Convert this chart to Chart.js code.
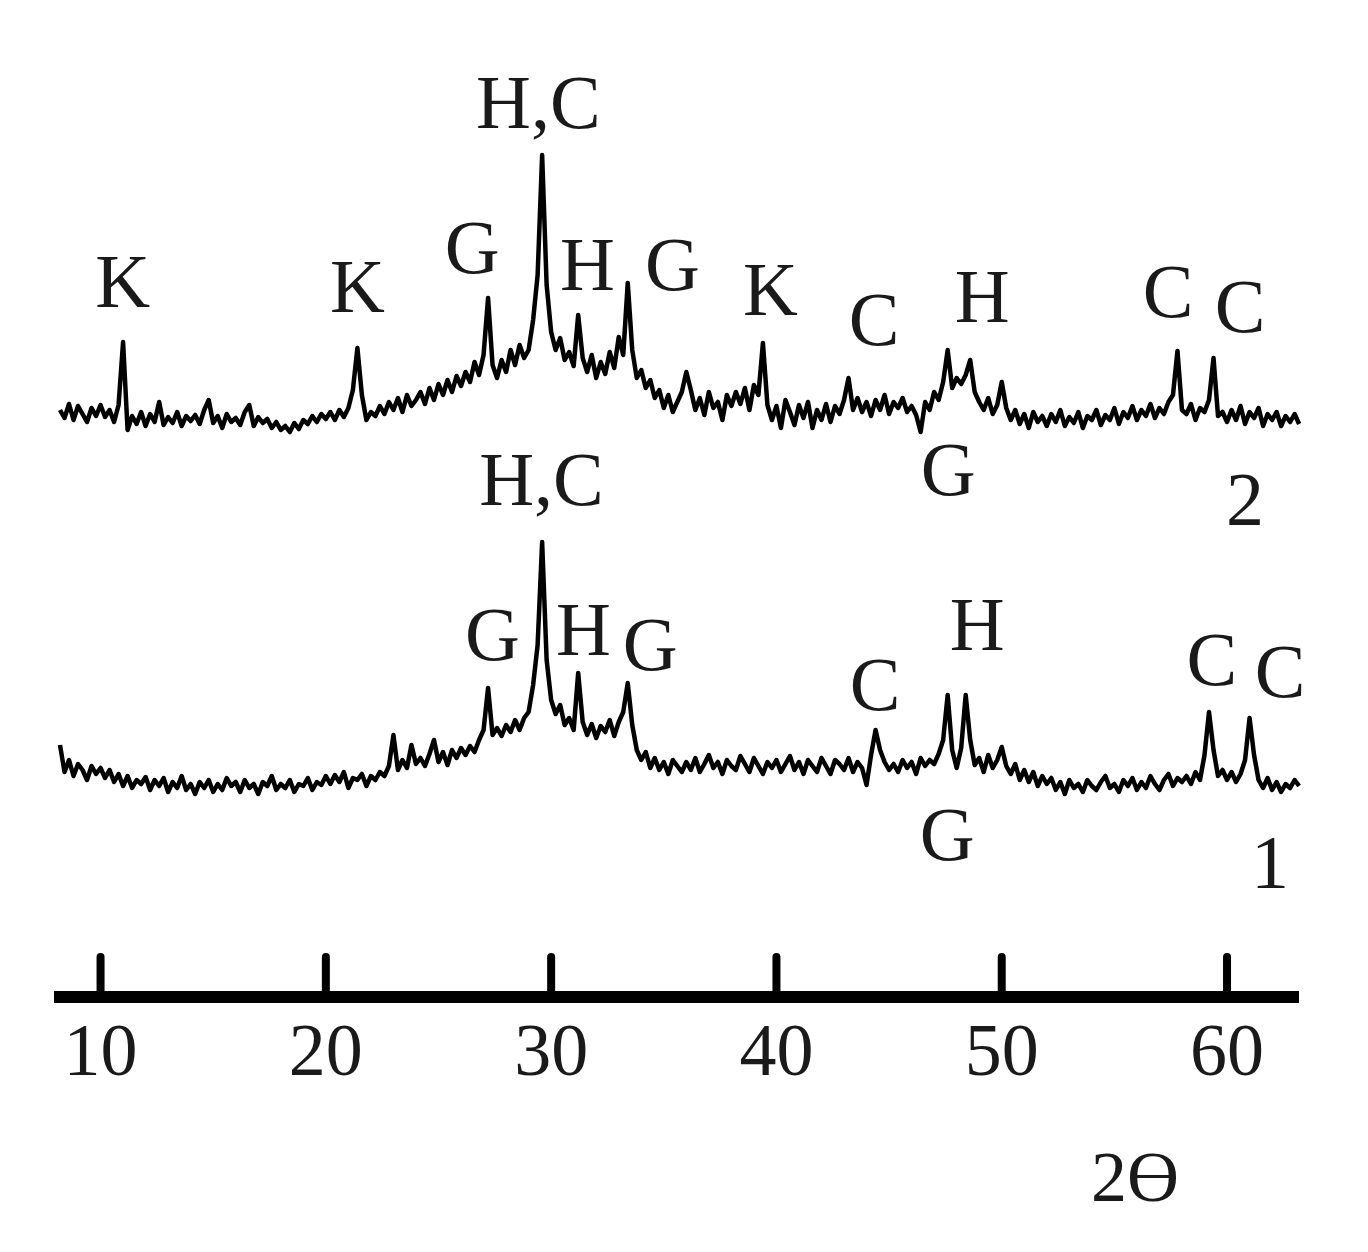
<!DOCTYPE html>
<html>
<head>
<meta charset="utf-8">
<script src="https://cdn.jsdelivr.net/npm/chart.js@4.4.1/dist/chart.umd.min.js"></script>
<style>
  html, body { margin: 0; padding: 0; background: #fff; }
</style>
</head>
<body>
<canvas id="canvas" width="1368" height="1252"></canvas>
<script>
// 2-theta sampling grid of the diffractometer
var TWO_THETA_START = 8.2;
var TWO_THETA_STEP = 0.2;

// sample 1 (lower pattern), intensity, arbitrary units
var XRD_1 = [
  65, 38, 50, 34, 46, 40, 30, 44, 36, 42,
  32, 40, 28, 36, 24, 34, 22, 30, 26, 33,
  20, 30, 24, 32, 18, 28, 22, 34, 20, 26,
  16, 28, 22, 30, 18, 26, 20, 32, 24, 28,
  18, 30, 22, 26, 16, 28, 24, 34, 20, 26,
  22, 30, 18, 26, 24, 32, 20, 28, 25, 34,
  26, 35, 28, 38, 22, 32, 30, 36, 24, 34,
  30, 38, 34, 44, 75, 40, 50, 42, 65, 46,
  52, 44, 56, 70, 48, 58, 45, 60, 52, 62,
  55, 64, 58, 70, 80, 122, 75, 82, 74, 85,
  78, 90, 80, 92, 98, 125, 165, 268, 150, 110,
  96, 105, 85, 92, 80, 137, 88, 75, 86, 72,
  84, 78, 90, 74, 88, 98, 127, 85, 60, 50,
  58, 42, 52, 40, 48, 36, 50, 44, 38, 48,
  40, 52, 38, 46, 55, 42, 48, 36, 50, 44,
  40, 54, 46, 38, 52, 44, 36, 48, 42, 50,
  38, 46, 54, 40, 48, 36, 50, 44, 38, 52,
  44, 36, 50, 46, 40, 52, 38, 48, 42, 25,
  55, 80, 60, 48, 40, 46, 38, 50, 42, 48,
  36, 52, 44, 50, 46, 56, 70, 115, 60, 42,
  62, 115, 70, 45, 52, 38, 55, 42, 50, 63,
  44, 36, 46, 30, 40, 28, 38, 24, 34, 26,
  32, 20, 28, 16, 30, 22, 26, 18, 30, 24,
  20, 28, 34, 22, 26, 18, 30, 24, 32, 20,
  28, 22, 34, 26, 20, 30, 36, 24, 32, 28,
  34, 26, 38, 30, 55, 98, 60, 34, 40, 30,
  38, 28, 36, 50, 92, 55, 30, 22, 32, 20,
  28, 18, 26, 22, 30, 24
];

// sample 2 (upper pattern)
var XRD_2 = [
  40, 32, 46, 30, 44, 36, 28, 42, 34, 45,
  33, 40, 28, 45, 108, 20, 34, 26, 38, 24,
  36, 28, 48, 25, 33, 27, 38, 24, 34, 29,
  35, 26, 40, 50, 27, 34, 22, 36, 28, 32,
  25, 38, 45, 24, 33, 27, 31, 22, 28, 20,
  24, 18, 27, 21, 30, 26, 34, 28, 36, 31,
  38, 30, 40, 33, 42, 60, 102, 55, 30, 38,
  34, 44, 36, 48, 40, 52, 38, 55, 44, 50,
  58, 46, 62, 50, 66, 55, 70, 58, 74, 64,
  78, 68, 88, 75, 95, 152, 85, 72, 90, 78,
  100, 85, 105, 92, 100, 130, 175, 295, 165, 118,
  100, 112, 90, 98, 84, 135, 92, 78, 95, 72,
  88, 76, 98, 82, 113, 95, 167, 100, 72, 80,
  62, 70, 52, 60, 42, 55, 38, 48, 58, 78,
  60, 40, 52, 35, 58, 42, 48, 30, 55, 44,
  58, 46, 62, 40, 65, 55, 107, 45, 30, 44,
  22, 50, 38, 25, 45, 32, 48, 22, 40, 30,
  46, 28, 44, 36, 50, 72, 40, 52, 38, 48,
  34, 50, 40, 55, 36, 48, 42, 52, 38, 44,
  35, 18, 48, 40, 58, 50, 68, 100, 62, 72,
  66, 75, 90, 58, 48, 40, 52, 36, 45, 68,
  42, 30, 40, 26, 36, 22, 38, 28, 34, 24,
  36, 28, 40, 24, 33, 27, 38, 22, 34, 30,
  40, 25, 35, 30, 42, 26, 38, 32, 44, 30,
  40, 34, 46, 32, 42, 36, 48, 55, 99, 40,
  36, 46, 30, 42, 38, 50, 92, 34, 38, 28,
  40, 30, 44, 26, 38, 32, 42, 24, 36, 30,
  38, 24, 34, 28, 36, 26
];

var OFFSET_2 = 360;   // vertical shift of pattern 2
var X_TICKS = [10, 20, 30, 40, 50, 60];
var X_TITLE = '2\u04E8';

// phase marks: text, 2theta, height on the plot
var PHASE_LABELS = [
  ['K', 10.98, 523], ['K', 21.40, 518], ['G', 26.50, 557], ['H,C', 29.43, 702],
  ['H', 31.61, 540], ['G', 35.38, 540], ['K', 39.73, 515], ['C', 44.34, 485],
  ['H', 49.13, 508], ['C', 57.38, 513], ['C', 60.58, 498], ['G', 47.62, 335],
  ['2', 60.80, 305],
  ['H,C', 29.57, 325], ['G', 27.39, 170], ['H', 31.43, 175], ['G', 34.40, 160],
  ['C', 44.38, 120], ['H', 48.91, 180], ['C', 59.33, 145], ['C', 62.35, 133],
  ['G', 47.58, -30], ['1', 61.91, -58]
];

var SERIF = '"Liberation Serif", "Times New Roman", serif';

function toPoints(arr, offset) {
  return arr.map(function(v, i) {
    return { x: TWO_THETA_START + i * TWO_THETA_STEP, y: v + offset };
  });
}

var marks = {
  id: 'marks',
  afterDraw: function(chart) {
    var ctx = chart.ctx;
    var xs = chart.scales.x, ys = chart.scales.y;
    ctx.save();
    // tick marks standing up from the axis line
    ctx.strokeStyle = '#000';
    ctx.lineWidth = 8;
    ctx.lineCap = 'round';
    X_TICKS.forEach(function(t) {
      var px = xs.getPixelForValue(t);
      ctx.beginPath();
      ctx.moveTo(px, chart.chartArea.bottom);
      ctx.lineTo(px, chart.chartArea.bottom - 40);
      ctx.stroke();
    });
    ctx.fillStyle = '#1a1a1a';
    ctx.textAlign = 'center';
    ctx.textBaseline = 'middle';
    ctx.font = '76px ' + SERIF;
    PHASE_LABELS.forEach(function(l) {
      ctx.fillText(l[0], xs.getPixelForValue(l[1]), ys.getPixelForValue(l[2]));
    });
    ctx.font = '72px ' + SERIF;
    ctx.fillText(X_TITLE, xs.getPixelForValue(55.92), 1182);
    ctx.restore();
  }
};

var config = {
  type: 'scatter',
  data: {
    datasets: [{
      label: '1',
      data: toPoints(XRD_1, 0),
      showLine: true,
      borderColor: '#000',
      borderWidth: 4.5,
      borderJoinStyle: 'round',
      pointRadius: 0,
      clip: false
    }, {
      label: '2',
      data: toPoints(XRD_2, OFFSET_2),
      showLine: true,
      borderColor: '#000',
      borderWidth: 4.5,
      borderJoinStyle: 'round',
      pointRadius: 0,
      clip: false
    }]
  },
  options: {
    responsive: false,
    animation: false,
    layout: { padding: { left: 60, right: 70, top: 0, bottom: 0 } },
    plugins: { legend: { display: false }, tooltip: { enabled: false } },
    scales: {
      x: {
        type: 'linear',
        min: 8.2,
        max: 63.15,
        afterFit: function(s) { s.height = 255; },
        afterBuildTicks: function(s) {
          s.ticks = X_TICKS.map(function(v) { return { value: v }; });
        },
        grid: { display: false, drawTicks: false },
        border: { display: true, color: '#000', width: 12 },
        ticks: {
          padding: 14,
          color: '#1a1a1a',
          maxRotation: 0,
          font: { family: SERIF, size: 74 }
        }
      },
      y: {
        display: false,
        min: -187,
        max: 810
      }
    }
  },
  plugins: [marks]
};

window.onload = function() {
  var ctx = document.getElementById('canvas').getContext('2d');
  window.myLine = new Chart(ctx, config);
};
</script>
</body>
</html>
